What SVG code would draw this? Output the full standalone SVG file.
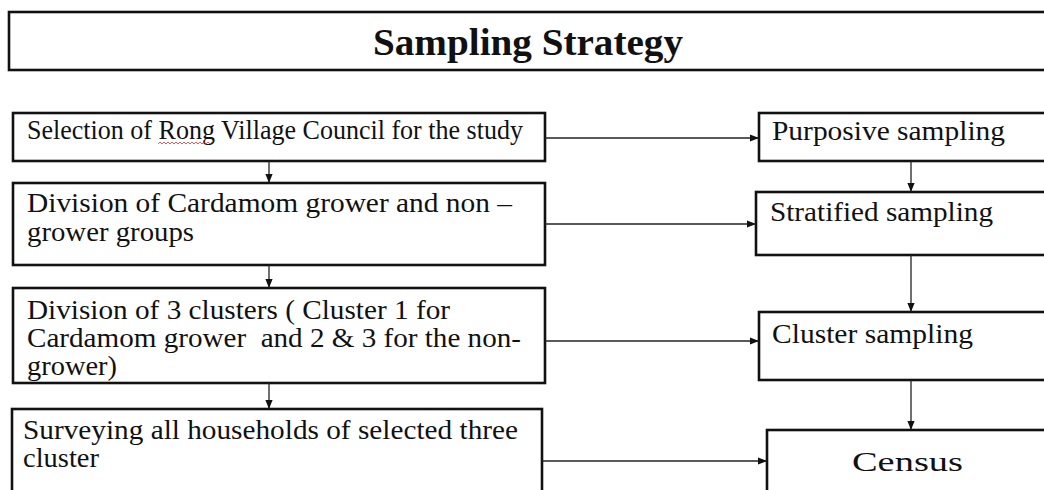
<svg xmlns="http://www.w3.org/2000/svg" width="1044" height="490" viewBox="0 0 1044 490">
<defs>
<marker id="ah" viewBox="0 0 10 10" refX="10" refY="5" markerWidth="9" markerHeight="9" markerUnits="userSpaceOnUse" orient="auto">
<path d="M0,1 L10,5 L0,9 Z" fill="#111"/>
</marker>
<style>
.box{fill:#fff;stroke:#111;stroke-width:2.6}
.t{font-family:"Liberation Serif","Times New Roman",serif;fill:#111;font-size:28px}
.title{font-family:"Liberation Serif","Times New Roman",serif;font-weight:bold;font-size:37px;fill:#111}
.c{stroke:#222;stroke-width:1.3;fill:none;marker-end:url(#ah)}
</style>
</defs>
<rect width="1044" height="490" fill="#fff"/>
<g id="title">
<rect class="box" x="9" y="12" width="1060" height="58"/>
<text class="title" x="373" y="55" textLength="310" lengthAdjust="spacingAndGlyphs">Sampling Strategy</text>
</g>
<g id="n1">
<rect class="box" x="13" y="113" width="532" height="48"/>
<text class="t" x="27" y="139" font-size="26" textLength="496" lengthAdjust="spacingAndGlyphs">Selection of Rong Village Council for the study</text>
<path d="M158,144 l2,-2 l2,2 l2,-2 l2,2 l2,-2 l2,2 l2,-2 l2,2 l2,-2 l2,2 l2,-2 l2,2 l2,-2 l2,2 l2,-2 l2,2 l2,-2 l2,2 l2,-2 l2,2 l2,-2 l2,2 l2,-2 l2,2 l2,-2 l2,2 l2,-2" fill="none" stroke="#d33" stroke-width="0.8"/>
</g>
<g id="n2">
<rect class="box" x="13" y="183" width="532" height="82"/>
<text class="t" x="27" y="212" textLength="485" lengthAdjust="spacingAndGlyphs">Division of Cardamom grower and non –</text>
<text class="t" x="27" y="241" textLength="167" lengthAdjust="spacingAndGlyphs">grower groups</text>
</g>
<g id="n3">
<rect class="box" x="13" y="288" width="532" height="95"/>
<text class="t" x="27" y="319" textLength="423" lengthAdjust="spacingAndGlyphs">Division of 3 clusters ( Cluster 1 for</text>
<text class="t" x="27" y="347" textLength="494" lengthAdjust="spacingAndGlyphs" xml:space="preserve">Cardamom grower  and 2 &amp; 3 for the non-</text>
<text class="t" x="27" y="375" textLength="90" lengthAdjust="spacingAndGlyphs">grower)</text>
</g>
<g id="n4">
<rect class="box" x="12" y="409" width="530" height="100"/>
<text class="t" x="23" y="439" textLength="495" lengthAdjust="spacingAndGlyphs">Surveying all households of selected three</text>
<text class="t" x="23" y="467" textLength="76" lengthAdjust="spacingAndGlyphs">cluster</text>
</g>
<g id="r1">
<rect class="box" x="759" y="113" width="300" height="48"/>
<text class="t" x="772" y="140" textLength="233" lengthAdjust="spacingAndGlyphs">Purposive sampling</text>
</g>
<g id="r2">
<rect class="box" x="756" y="192" width="300" height="63"/>
<text class="t" x="770" y="221" textLength="223" lengthAdjust="spacingAndGlyphs">Stratified sampling</text>
</g>
<g id="r3">
<rect class="box" x="759" y="312" width="300" height="68"/>
<text class="t" x="772" y="343" textLength="201" lengthAdjust="spacingAndGlyphs">Cluster sampling</text>
</g>
<g id="r4">
<rect class="box" x="767" y="430" width="300" height="80"/>
<text class="t" x="852" y="471" font-size="40" textLength="111" lengthAdjust="spacingAndGlyphs">Census</text>
</g>
<g id="connectors">
<line class="c" x1="269" y1="161" x2="269" y2="183"/>
<line class="c" x1="269" y1="265" x2="269" y2="288"/>
<line class="c" x1="269" y1="383" x2="269" y2="409"/>
<line class="c" x1="545" y1="138" x2="759" y2="138"/>
<line class="c" x1="545" y1="224" x2="756" y2="224"/>
<line class="c" x1="545" y1="341" x2="759" y2="341"/>
<line class="c" x1="542" y1="461" x2="767" y2="461"/>
<line class="c" x1="911" y1="161" x2="911" y2="192"/>
<line class="c" x1="911" y1="255" x2="911" y2="312"/>
<line class="c" x1="911" y1="380" x2="911" y2="430"/>
</g>
</svg>
